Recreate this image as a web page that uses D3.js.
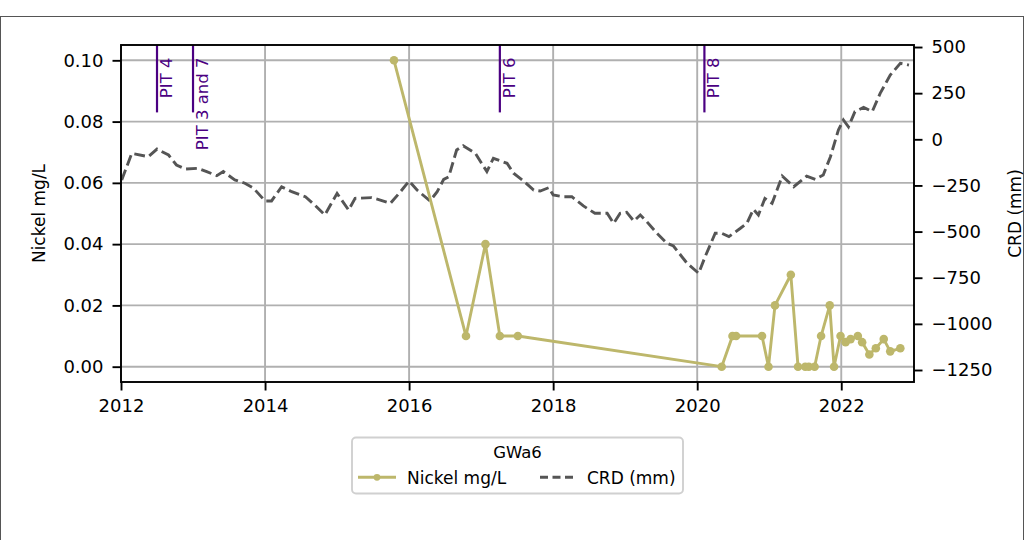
<!DOCTYPE html>
<html>
<head>
<meta charset="utf-8">
<title>GWa6 Nickel and CRD</title>
<script src="https://d3js.org/d3.v7.min.js"></script>
<style>
  body { margin: 0; background: #fff; }
  svg { display: block; font-family: "DejaVu Sans", sans-serif; }
</style>
</head>
<body>
<svg id="chart" width="1032" height="540"></svg>
<script>
// nickel samples (decimal year, mg/L)
const niYears = [2015.79, 2016.79, 2017.06, 2017.26, 2017.51, 2020.34, 2020.49, 2020.54, 2020.90, 2020.99,
  2021.08, 2021.30, 2021.40, 2021.50, 2021.55, 2021.63, 2021.72, 2021.84, 2021.90, 2021.99,
  2022.06, 2022.13, 2022.23, 2022.29, 2022.39, 2022.48, 2022.59, 2022.68, 2022.82];
const niValues = [0.10, 0.01, 0.04, 0.01, 0.01, 0.00, 0.01, 0.01, 0.01, 0.00,
  0.02, 0.03, 0.00, 0.00, 0.00, 0.00, 0.01, 0.02, 0.00, 0.01,
  0.008, 0.009, 0.01, 0.008, 0.004, 0.006, 0.009, 0.005, 0.006];

// cumulative rainfall departure (decimal year, mm)
const crdYears = [2012.01, 2012.15, 2012.38, 2012.50, 2012.66, 2012.77, 2012.89, 2013.07, 2013.19, 2013.33,
  2013.42, 2013.58, 2013.72, 2013.84, 2014.00, 2014.09, 2014.23, 2014.37, 2014.56, 2014.69,
  2014.83, 2015.00, 2015.16, 2015.25, 2015.48, 2015.60, 2015.74, 2015.88, 2016.00, 2016.11,
  2016.29, 2016.39, 2016.48, 2016.55, 2016.66, 2016.75, 2016.92, 2017.08, 2017.17, 2017.36,
  2017.45, 2017.59, 2017.73, 2017.82, 2017.94, 2018.00, 2018.14, 2018.26, 2018.42, 2018.58,
  2018.75, 2018.84, 2018.93, 2019.02, 2019.12, 2019.21, 2019.30, 2019.44, 2019.58, 2019.67,
  2019.86, 2020.02, 2020.11, 2020.25, 2020.34, 2020.44, 2020.60, 2020.69, 2020.78, 2020.85,
  2020.94, 2021.04, 2021.18, 2021.34, 2021.52, 2021.64, 2021.75, 2021.85, 2021.96, 2022.03,
  2022.10, 2022.19, 2022.31, 2022.43, 2022.54, 2022.68, 2022.82, 2022.94];
const crdValues = [-220, -76, -94, -53, -85, -139, -161, -157, -175, -197,
  -175, -220, -238, -265, -334, -334, -257, -284, -311, -356,
  -410, -293, -383, -320, -316, -329, -347, -284, -226, -275,
  -334, -284, -217, -203, -58, -35, -76, -175, -103, -130,
  -184, -226, -275, -280, -262, -302, -311, -311, -361, -401,
  -401, -455, -401, -395, -443, -410, -446, -509, -563, -578,
  -672, -726, -636, -509, -509, -527, -482, -455, -379, -410,
  -320, -347, -199, -257, -199, -217, -193, -94, 50, 105,
  68, 150, 173, 150, 249, 348, 412, 402];

// PIT events
const pitYears = [2012.50, 2013.00, 2017.26, 2020.10];
const pitLabels = ["PIT 4", "PIT 3 and 7", "PIT 6", "PIT 8"];

// tick values
const xTicks = [2012, 2014, 2016, 2018, 2020, 2022];
const niTicks = [0, 0.02, 0.04, 0.06, 0.08, 0.10];
const crdTicks = [-1250, -1000, -750, -500, -250, 0, 250, 500];

const svg = d3.select("#chart");
const mLeft = 121, mRight = 914, mTop = 45, mBottom = 382;
const fs = 17, tickFs = 18;

// figure frame
svg.append("rect")
  .attr("x", 0.5).attr("y", 16.5)
  .attr("width", 1023).attr("height", 600)
  .attr("fill", "none").attr("stroke", "#555").attr("stroke-width", 1);

const x = d3.scaleLinear().domain([2012, 2023.01]).range([mLeft, mRight]);
const yNi = d3.scaleLinear().domain([-0.005, 0.105]).range([mBottom, mTop]);
const yCrd = d3.scaleLinear().domain([-1315, 511]).range([mBottom, mTop]);

// grid
const grid = svg.append("g").attr("stroke", "#b0b0b0").attr("stroke-width", 1.9);
grid.selectAll(".gx").data(xTicks).enter().append("line")
  .attr("x1", d => x(d)).attr("x2", d => x(d))
  .attr("y1", mTop).attr("y2", mBottom);
grid.selectAll(".gy").data(niTicks).enter().append("line")
  .attr("x1", mLeft).attr("x2", mRight)
  .attr("y1", d => yNi(d)).attr("y2", d => yNi(d));

// CRD dashed line
const crdLine = d3.line().x((d, i) => x(crdYears[i])).y(d => yCrd(d));
svg.append("path")
  .attr("d", crdLine(crdValues))
  .attr("fill", "none")
  .attr("stroke", "#555555")
  .attr("stroke-width", 2.9)
  .attr("stroke-dasharray", "10.8,4.7");

// nickel line + markers
const niLine = d3.line().x((d, i) => x(niYears[i])).y(d => yNi(d));
svg.append("path")
  .attr("d", niLine(niValues))
  .attr("fill", "none")
  .attr("stroke", "#bdb76b")
  .attr("stroke-width", 2.9)
  .attr("stroke-linejoin", "round");
svg.selectAll(".ni").data(niValues).enter().append("circle")
  .attr("cx", (d, i) => x(niYears[i]))
  .attr("cy", d => yNi(d))
  .attr("r", 4.3)
  .attr("fill", "#bdb76b");

// PIT markers
const pits = svg.append("g");
pitYears.forEach((yr, i) => {
  pits.append("line")
    .attr("x1", x(yr)).attr("x2", x(yr))
    .attr("y1", mTop).attr("y2", mTop + 0.2 * (mBottom - mTop))
    .attr("stroke", "#4b0082").attr("stroke-width", 2.2);
  pits.append("text")
    .attr("transform", `translate(${x(yr) + 15},57.5) rotate(-90)`)
    .attr("text-anchor", "end")
    .attr("fill", "#4b0082")
    .style("font-size", "16.5px")
    .text(pitLabels[i]);
});

// axes
function styleAxis(g) {
  g.select(".domain").remove();
  g.selectAll("line").attr("stroke", "#000").attr("stroke-width", 1.9);
  g.selectAll("text").attr("fill", "#000").style("font-size", tickFs + "px").style("font-family", "DejaVu Sans");
}
svg.append("g").attr("transform", `translate(0,${mBottom})`)
  .call(d3.axisBottom(x).tickValues(xTicks).tickFormat(d3.format("d")).tickSize(8.5).tickPadding(8.5))
  .call(styleAxis);
svg.append("g").attr("transform", `translate(${mLeft},0)`)
  .call(d3.axisLeft(yNi).tickValues(niTicks).tickFormat(d3.format(".2f")).tickSize(8.5).tickPadding(9))
  .call(styleAxis);
svg.append("g").attr("transform", `translate(${mRight},0)`)
  .call(d3.axisRight(yCrd).tickValues(crdTicks).tickFormat(d3.format("d")).tickSize(8.5).tickPadding(9))
  .call(styleAxis);

// spines
svg.append("rect")
  .attr("x", mLeft).attr("y", mTop)
  .attr("width", mRight - mLeft).attr("height", mBottom - mTop)
  .attr("fill", "none").attr("stroke", "#000").attr("stroke-width", 1.9);

// axis titles
svg.append("text")
  .attr("transform", `translate(45,${(mTop + mBottom) / 2}) rotate(-90)`)
  .attr("text-anchor", "middle").style("font-size", fs + "px")
  .text("Nickel mg/L");
svg.append("text")
  .attr("transform", `translate(1021,${(mTop + mBottom) / 2}) rotate(-90)`)
  .attr("text-anchor", "middle").style("font-size", fs + "px")
  .text("CRD (mm)");

// legend
const lg = svg.append("g");
lg.append("rect")
  .attr("x", 352).attr("y", 437.5).attr("width", 331).attr("height", 56)
  .attr("rx", 4).attr("fill", "#fff").attr("fill-opacity", 0.8)
  .attr("stroke", "#d0d0d0").attr("stroke-width", 1.9);
lg.append("text").attr("x", 517.5).attr("y", 458)
  .attr("text-anchor", "middle").style("font-size", "16.5px").text("GWa6");
lg.append("line").attr("x1", 358).attr("x2", 396).attr("y1", 477.3).attr("y2", 477.3)
  .attr("stroke", "#bdb76b").attr("stroke-width", 2.9);
lg.append("circle").attr("cx", 377).attr("cy", 477.3).attr("r", 3.4).attr("fill", "#bdb76b");
lg.append("text").attr("x", 407).attr("y", 483.5).style("font-size", fs + "px").text("Nickel mg/L");
lg.append("line").attr("x1", 540).attr("x2", 575).attr("y1", 477.3).attr("y2", 477.3)
  .attr("stroke", "#555555").attr("stroke-width", 2.9).attr("stroke-dasharray", "8,4.5");
lg.append("text").attr("x", 587).attr("y", 483.5).style("font-size", fs + "px").text("CRD (mm)");
</script>
</body>
</html>
